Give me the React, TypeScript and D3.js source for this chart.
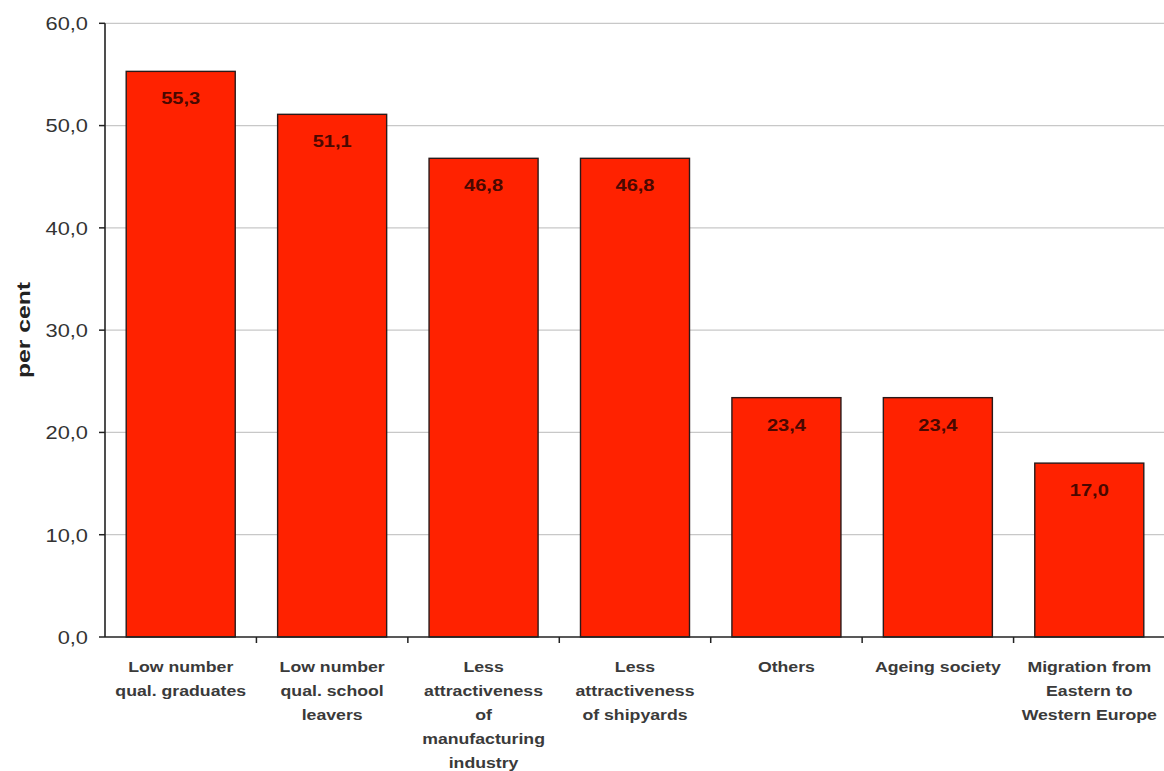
import React from "react";
import * as d3 from "d3";

const categories: string[][] = [
  ["Low number", "qual. graduates"],
  ["Low number", "qual. school", "leavers"],
  ["Less", "attractiveness", "of", "manufacturing", "industry"],
  ["Less", "attractiveness", "of shipyards"],
  ["Others"],
  ["Ageing society"],
  ["Migration from", "Eastern to", "Western Europe"],
];
const values: number[] = [55.3, 51.1, 46.8, 46.8, 23.4, 23.4, 17.0];
const yTicks: number[] = [0, 10, 20, 30, 40, 50, 60];
const yTitle = "per cent";

const W = 1164;
const H = 771;
const left = 105;
const right = 1165;
const top = 23.3;
const bottom = 637;
const SX = 1.18;
const FONT = "'Liberation Sans', Arial, sans-serif";

export default function App() {
  const keys = categories.map((c) => c.join(" "));
  const x = d3.scaleBand<string>().domain(keys).range([left, right]).paddingInner(0.28).paddingOuter(0.14);
  const y = d3.scaleLinear().domain([0, 60]).range([bottom, top]);
  const step = x.step();
  const fmt = (v: number) => v.toFixed(1).replace(".", ",");

  return (
    <svg width={W} height={H} style={{ position: "absolute", left: 0, top: 0, background: "#fff" }}>
      {/* gridlines */}
      {yTicks.filter((t) => t > 0).map((t) => (
        <line key={"g" + t} x1={left} x2={W} y1={y(t)} y2={y(t)} stroke="#c8c8c8" strokeWidth={1.3} />
      ))}
      {/* bars */}
      {values.map((v, i) => (
        <rect
          key={"b" + i}
          x={x(keys[i])!}
          y={y(v)}
          width={x.bandwidth()}
          height={y(0) - y(v)}
          fill="#ff2200"
          stroke="#2a1a1a"
          strokeWidth={1.4}
        />
      ))}
      {/* value labels */}
      {values.map((v, i) => (
        <text
          key={"v" + i}
          transform={`translate(${x(keys[i])! + x.bandwidth() / 2},${y(v) + 33}) scale(${SX},1)`}
          textAnchor="middle"
          fontFamily={FONT}
          fontWeight="bold"
          fontSize={17}
          fill="#4a0800"
        >
          {fmt(v)}
        </text>
      ))}
      {/* y axis */}
      <line x1={left} x2={left} y1={top} y2={bottom} stroke="#222" strokeWidth={1.6} />
      {yTicks.map((t) => (
        <g key={"t" + t}>
          <line x1={left - 6} x2={left} y1={y(t)} y2={y(t)} stroke="#222" strokeWidth={1.5} />
          <text
            transform={`translate(88,${y(t) + 6.8}) scale(${SX},1)`}
            textAnchor="end"
            fontFamily={FONT}
            fontSize={18.5}
            fill="#333"
          >
            {fmt(t)}
          </text>
        </g>
      ))}
      {/* x axis */}
      <line x1={left} x2={W} y1={bottom} y2={bottom} stroke="#222" strokeWidth={1.6} />
      {keys.slice(1).map((k, i) => (
        <line key={"xt" + i} x1={left + step * (i + 1)} x2={left + step * (i + 1)} y1={bottom} y2={bottom + 6} stroke="#222" strokeWidth={1.5} />
      ))}
      {/* category labels */}
      {categories.map((lines, i) => (
        <g key={"c" + i}>
          {lines.map((ln, j) => (
            <text
              key={j}
              transform={`translate(${x(keys[i])! + x.bandwidth() / 2},${672 + j * 24}) scale(${SX},1)`}
              textAnchor="middle"
              fontFamily={FONT}
              fontWeight="bold"
              fontSize={15}
              fill="#3a3a3a"
            >
              {ln}
            </text>
          ))}
        </g>
      ))}
      {/* y title */}
      <text
        transform={`translate(30,330) rotate(-90) scale(1.3,1)`}
        textAnchor="middle"
        fontFamily={FONT}
        fontWeight="bold"
        fontSize={19}
        fill="#222"
      >
        {yTitle}
      </text>
    </svg>
  );
}
